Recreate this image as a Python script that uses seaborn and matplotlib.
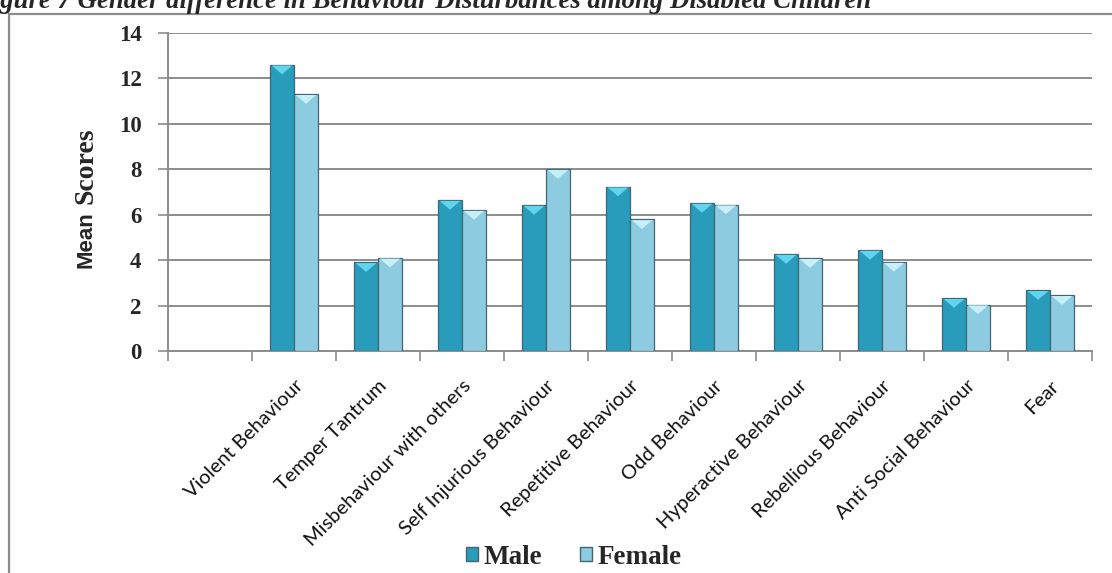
import matplotlib
matplotlib.use("Agg")
import matplotlib.pyplot as plt
import matplotlib.transforms as mtransforms
from matplotlib.patches import Rectangle, Polygon
import seaborn as sns
import pandas as pd

categories = ["Violent Behaviour", "Temper Tantrum", "Misbehaviour with others",
              "Self Injurious Behaviour", "Repetitive Behaviour", "Odd Behaviour",
              "Hyperactive Behaviour", "Rebellious Behaviour", "Anti Social Behaviour", "Fear"]
male = [12.6, 3.9, 6.64, 6.42, 7.23, 6.51, 4.26, 4.44, 2.32, 2.67]
female = [11.3, 4.1, 6.2, 8.0, 5.79, 6.44, 4.08, 3.91, 2.04, 2.45]
yticks = [0, 2, 4, 6, 8, 10, 12, 14]
title = "Figure 7 Gender difference in Behaviour Disturbances among Disabled Children"

df = pd.DataFrame({
    "Behaviour": categories * 2,
    "Gender": ["Male"] * len(categories) + ["Female"] * len(categories),
    "Score": male + female,
})
order = [""] + categories

sns.set_theme(style="white")
plt.rcParams["font.family"] = ["Liberation Serif", "DejaVu Serif"]

W, H = 1112, 573
fig = plt.figure(figsize=(W / 100, H / 100), dpi=100)
ax = fig.add_axes([168 / W, 1 - 351 / H, (1092 - 168) / W, (351 - 33) / H])

male_c = "#2a9cbb"
female_c = "#8ccbe0"
edge_c = "#3f6672"
sns.barplot(data=df, x="Behaviour", y="Score", hue="Gender", order=order,
            hue_order=["Male", "Female"], palette=[male_c, female_c], saturation=1,
            width=0.57, gap=0, ax=ax, legend=False, zorder=3,
            edgecolor=edge_c, linewidth=0.9)

# bevel-like top caps on bars, derived from the drawn patches
for p in ax.patches:
    x0, y0 = p.get_x(), p.get_y()
    w, h = p.get_width(), p.get_height()
    if h <= 0:
        continue
    fc = p.get_facecolor()
    light = "#5fd6ee" if fc[0] < 0.4 else "#c6effa"
    cap = Polygon([(x0 + w * 0.07, y0 + h - 0.03), (x0 + w * 0.93, y0 + h - 0.03),
                   (x0 + w * 0.5, y0 + h - 0.42)], closed=True,
                  facecolor=light, edgecolor="none", zorder=4)
    ax.add_patch(cap)

ax.set_xlim(-0.5, len(order) - 0.5)
ax.set_ylim(0, 14)
ax.set_yticks(yticks)
ax.set_yticklabels([str(v) for v in yticks], fontsize=16.5, fontweight="bold",
                   family=["Liberation Serif"])
ax.yaxis.grid(True, color="#8c8c8c", linewidth=1.4, zorder=0)
ax.set_axisbelow(True)

# ticks at slot boundaries
bounds = [i - 0.5 for i in range(len(order) + 1)]
ax.set_xticks(bounds)
ax.set_xticklabels([""] * len(bounds))
ax.tick_params(axis="x", direction="out", length=7, width=1.2, color="#8c8c8c", bottom=True)
ax.tick_params(axis="y", direction="out", length=7, width=1.2, color="#8c8c8c", left=True, pad=12)
ax.set_xlabel("")
ax.set_ylabel("")

for s in ["top", "right"]:
    ax.spines[s].set_visible(False)
for s in ["left", "bottom"]:
    ax.spines[s].set_color("#8c8c8c")
    ax.spines[s].set_linewidth(1.4)

# y-axis title (mixed fonts as in the reference)
fig.text(86 / W, 1 - 204 / H, "Scores", rotation=90, ha="center", va="bottom",
         fontsize=20, fontweight="bold", family=["Liberation Serif"])
fig.text(86 / W, 1 - 268 / H, "Mean", rotation=90, ha="center", va="bottom",
         fontsize=16, fontweight="bold", family=["Liberation Sans"])

# rotated category labels
offset = mtransforms.ScaledTranslation(6 / 100, -32 / 100, fig.dpi_scale_trans)
trans = ax.get_xaxis_transform() + offset
for i, lab in enumerate(order):
    if not lab:
        continue
    ax.text(i, 0, lab, transform=trans, rotation=45, rotation_mode="anchor",
            ha="right", va="center", fontsize=14.5, family=["Lato", "DejaVu Sans"],
            color="#111111")

# legend
handles = [Rectangle((0, 0), 1, 1, facecolor=male_c, edgecolor=edge_c),
           Rectangle((0, 0), 1, 1, facecolor=female_c, edgecolor=edge_c)]
leg = fig.legend(handles, ["Male", "Female"], loc="center", bbox_to_anchor=(574 / W, 1 - 557 / H),
                 ncol=2, frameon=False, handlelength=0.45, handleheight=0.45,
                 handletextpad=0.2, columnspacing=1.4,
                 prop={"family": "Liberation Serif", "weight": "bold", "size": 19.5})

# outer chart frame
fig.add_artist(Rectangle((9 / W, -0.1), 1.2, 1 - 14 / H + 0.1, transform=fig.transFigure,
                         fill=False, edgecolor="#8c8c8c", linewidth=1.6))

# caption title (partially cut at top, as in the reference)
fig.text(871 / W, 1 - 8 / H, title, ha="right", va="baseline", fontsize=19.3,
         fontweight="bold", fontstyle="italic", family=["Liberation Serif"])

fig.savefig("out.png", dpi=100)
